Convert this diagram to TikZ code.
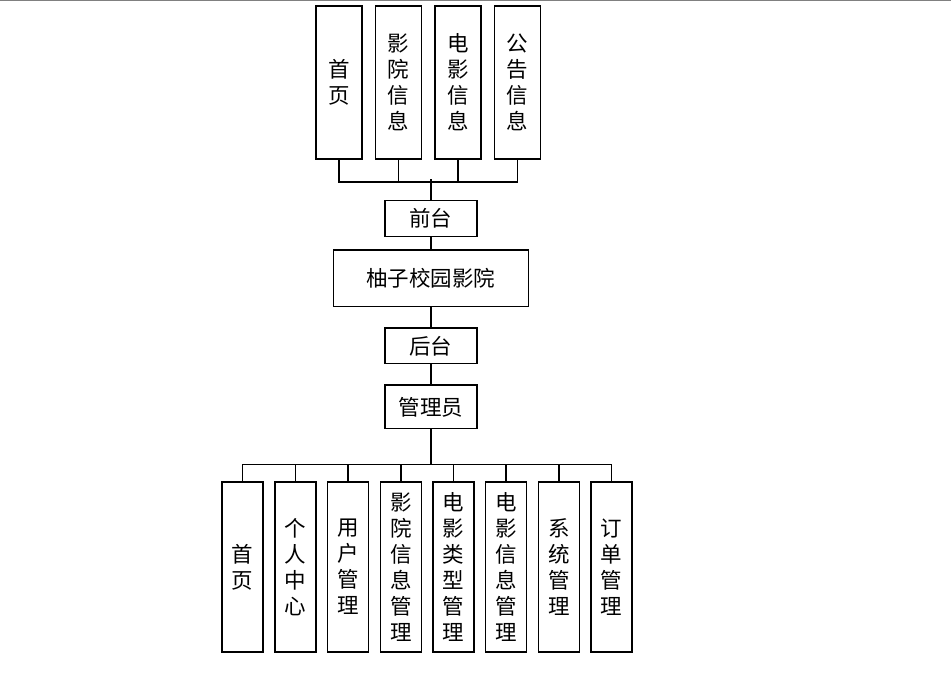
\documentclass[tikz,border=0pt]{standalone}
\usepackage{fontspec}
\newfontfamily\cjk{Noto Sans CJK SC}
\usetikzlibrary{positioning}

\begin{document}
\begin{tikzpicture}[x=1pt,y=1pt,line width=1.5pt,
                    hbox/.style={draw,line width=1.5pt,inner sep=0pt,font=\cjk\fontsize{21.5}{26}\selectfont},
                    tall/.style={hbox,align=center,minimum width=46pt,minimum height=153pt},
                    low/.style={hbox,align=center,minimum width=41pt,minimum height=170pt},
                    trunk/.style={line width=2.5pt}]

  \useasboundingbox (0,0) rectangle (951,-677);
  \draw[gray,line width=1pt] (0,-0.5) -- (951,-0.5);

  \node[hbox,minimum width=195pt,minimum height=56.5pt] (yz) at (430.8,-278.3) {柚子校园影院};
  \node[hbox,minimum width=92pt,minimum height=36pt]    (qt) [above=12pt of yz] {前台};
  \node[hbox,minimum width=92pt,minimum height=35.6pt]  (ht) [below=20pt of yz] {后台};
  \node[hbox,minimum width=92pt,minimum height=43.4pt]  (gly) [below=20pt of ht] {管理员};

  % front pages
  \node[tall] (sy) at (339,-82.5)                 {首\\页};
  \node[tall] (yy) [right of=sy,node distance=59.5pt] {影\\院\\信\\息};
  \node[tall] (dy) [right of=yy,node distance=59.5pt] {电\\影\\信\\息};
  \node[tall] (gg) [right of=dy,node distance=59.5pt] {公\\告\\信\\息};

  % admin pages
  \node[low] (hsy) at (242.7,-567)                {首\\页};
  \node[low] (grzx) [right of=hsy,node distance=52.7pt]  {个\\人\\中\\心};
  \node[low] (yhgl) [right of=grzx,node distance=52.7pt] {用\\户\\管\\理};
  \node[low] (yygl) [right of=yhgl,node distance=52.7pt] {影\\院\\信\\息\\管\\理};
  \node[low] (lxgl) [right of=yygl,node distance=52.7pt] {电\\影\\类\\型\\管\\理};
  \node[low] (dygl) [right of=lxgl,node distance=52.7pt] {电\\影\\信\\息\\管\\理};
  \node[low] (xtgl) [right of=dygl,node distance=52.7pt] {系\\统\\管\\理};
  \node[low] (ddgl) [right of=xtgl,node distance=52.7pt] {订\\单\\管\\理};

  \foreach \n in {sy,yy,dy,gg}
    \draw (\n.south) -- ++(0,-22) -| (qt.north);
  \draw[trunk] (qt.north) -- ++(0,21);
  \draw (qt) -- (yz);
  \draw (yz) -- (ht);
  \draw (ht) -- (gly);
  \foreach \n in {hsy,grzx,yhgl,yygl,lxgl,dygl,xtgl,ddgl}
    \draw (gly.south) -- ++(0,-35) -| (\n.north);
  \draw[trunk] (gly.south) -- ++(0,-35);

\end{tikzpicture}
\end{document}
